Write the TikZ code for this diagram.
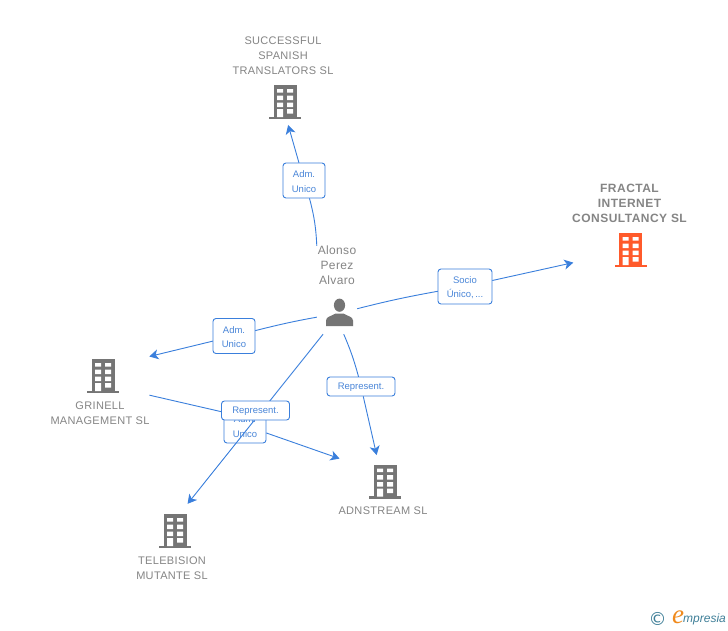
\documentclass[tikz,border=0pt]{standalone}
\usepackage{fontspec}
\setmainfont{Liberation Sans}
\newfontfamily\lsp[LetterSpace=3]{Liberation Sans}
\newfontfamily\lspb[LetterSpace=4]{Liberation Sans Bold}
\newfontfamily\logofont{Liberation Serif Italic}
\newfontfamily\logosans{Liberation Sans Italic}
\newfontfamily\symfont{DejaVu Sans}
\usetikzlibrary{arrows.meta}
\definecolor{linkblue}{HTML}{3A7FDC}
\definecolor{labelblue}{HTML}{4A86D8}
\definecolor{icongray}{HTML}{757575}
\definecolor{textgray}{HTML}{858585}
\definecolor{mainorange}{HTML}{FF5A2B}
\definecolor{logoteal}{HTML}{3F7F98}
\definecolor{logoorange}{HTML}{F08A1D}
\tikzset{
  conn/.style={draw=linkblue,line width=0.9pt},
  arr/.style={conn,-{Stealth[length=9pt,width=10pt,inset=2.5pt]}},
  tag/.style={draw=linkblue,line width=0.9pt,rounded corners=3pt,fill=white,text=labelblue,
    font=\fontsize{9.5}{14.5}\selectfont,align=center,inner sep=0pt,minimum height=35pt},
  tagone/.style={tag,minimum height=19pt,minimum width=68pt},
  spot/.style={inner sep=0pt,minimum height=35pt,font=\fontsize{9.5}{14.5}\selectfont,align=center},
  spotone/.style={spot,minimum height=19pt,minimum width=68pt},
  entname/.style={text=textgray,font=\fontsize{11}{15}\selectfont\lsp,align=center,inner sep=0pt},
  personname/.style={entname,font=\fontsize{12}{15}\selectfont\lsp},
  mainname/.style={text=textgray,font=\fontsize{12}{15}\selectfont\lspb,align=center,inner sep=0pt},
  iconbox/.style={minimum width=32pt,minimum height=34pt,inner sep=0pt,draw=none},
}
\newcommand{\tl}[1]{\raisebox{-1.2pt}[\height][\depth]{#1}}
\newcommand{\bldg}[3]{%
  \node[iconbox] (#1) at (#2) {};
  \begin{scope}[shift={(#1.center)}]
    \fill[#3] (-16,14.6) rectangle (16,17);
    \fill[#3] (-11.5,-17) rectangle (11.5,15);
    \fill[white] (-8,-13) rectangle (-2,-9.5) (2,-13) rectangle (8,-9.5)
      (-8,-6.5) rectangle (-2,-2) (2,-6.5) rectangle (8,-2)
      (-8,0.5) rectangle (-2,5) (2,0.5) rectangle (8,5)
      (-8,7) rectangle (-2,15) (2,7) rectangle (8,11.5);
  \end{scope}}
\begin{document}
\begin{tikzpicture}[x=1pt,y=-1pt]
\useasboundingbox (0,0) rectangle (728,630);
\fill[white] (0,0) rectangle (728,630);

% entities
\bldg{sst}{285,102}{icongray}
\bldg{fractal}{630.5,250}{mainorange}
\bldg{grinell}{103,376}{icongray}
\bldg{adn}{385,481.5}{icongray}
\bldg{tele}{175,531}{icongray}

\node[entname] (sstname) at (283,56) {SUCCESSFUL\\SPANISH\\TRANSLATORS SL};
\node[mainname] (fractalname) at (629.5,203.5) {FRACTAL\\INTERNET\\CONSULTANCY SL};
\node[entname] (grinellname) at (100,413) {GRINELL\\MANAGEMENT SL};
\node[entname] (adnname) at (383,511) {ADNSTREAM SL};
\node[entname] (telename) at (172,568) {TELEBISION\\MUTANTE SL};
\node[personname,minimum width=40pt] (alonso) at (337,265.5) {Alonso\\Perez\\Alvaro};

% person
\node[minimum width=34pt,minimum height=42pt,inner sep=0pt] (person) at (340,313) {};
\fill[icongray] (339.5,305.2) ellipse (5.6 and 6.6);
\fill[icongray] (326,326) -- (326,320.5) .. controls (326,316.5) and (332,316) .. (335.5,313.5)
  -- (343.5,313.5) .. controls (347,316) and (353,316.5) .. (353,320.5) -- (353,326) -- cycle;

% label positions, so that connectors can refer to them
\path node[spot,minimum width=42pt] (lsst) at (304,180.5) {}
      node[spot,minimum width=54pt] (lsocio) at (465,286.5) {}
      node[spot,minimum width=42pt] (lgrin) at (234,336) {}
      node[spotone] (lrep) at (361,386.5) {}
      node[spot,minimum width=42pt] (ladn) at (245,425.5) {};

\draw[conn] (alonso.north west) to[bend right=6] (lsst);
\draw[arr,shorten >=6pt] (lsst) -- (sst.-85);
\draw[conn] (person) to[bend left=2] (lsocio);
\draw[arr,shorten >=42pt] (lsocio) -- (fractal);
\draw[conn,shorten <=6pt] (person) to[bend right=2] (lgrin);
\draw[arr,shorten >=31pt] (lgrin) -- (grinell.37);
\draw[conn] (person.-80) to[bend left=4] (lrep);
\draw[arr,shorten >=9.5pt] (lrep) -- (adn.110);
\draw[conn,shorten <=31pt] (grinell.-37) -- (ladn.148);
\draw[arr,shorten >=31pt] (ladn) -- (adn.142);

\node[tag,minimum width=42pt] at (lsst) {\tl{Adm.}\\\tl{Unico}};
\node[tag,minimum width=54pt] at (lsocio) {\tl{Socio}\\\tl{Único,\,...}};
\node[tag,minimum width=42pt] at (lgrin) {\tl{Adm.}\\\tl{Unico}};
\node[tagone] at (lrep) {\tl{Represent.}};
\node[tag,minimum width=42pt] at (ladn) {\tl{Adm.}\\\tl{Unico}};

\draw[arr,shorten >=12.8pt] (person) -- (tele.75);

\node[tagone] (lrepb) at (255.5,410.5) {\tl{Represent.}};

% logo
\node[text=logoteal,inner sep=0pt,font=\fontsize{18}{18}\selectfont\symfont] (copy) at (657.5,619) {©};
\node[text=logoorange,inner sep=0pt,font=\fontsize{27}{27}\selectfont\logofont] (loge) at (678,617) {e};
\node[text=logoteal,inner sep=0pt,anchor=west,font=\fontsize{12}{12}\selectfont\logosans] (logot) at (683,619) {mpresia};
\end{tikzpicture}
\end{document}
